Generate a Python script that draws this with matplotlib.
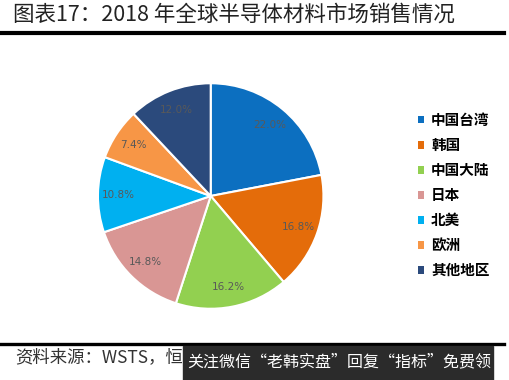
import matplotlib
matplotlib.use("Agg")
import matplotlib.pyplot as plt
from matplotlib.patches import Rectangle
from matplotlib.lines import Line2D

plt.rcParams['font.family'] = ['Noto Sans CJK SC', 'DejaVu Sans']

regions = ['中国台湾', '韩国', '中国大陆', '日本', '北美', '欧洲', '其他地区']
shares = [22.0, 16.8, 16.2, 14.8, 10.8, 7.4, 12.0]
colors = ['#0C6FC0', '#E46C0A', '#92D050', '#D99694', '#00B0F0', '#F79646', '#2B4A7C']
title = '图表17：2018 年全球半导体材料市场销售情况'
source = '资料来源：WSTS，恒大研究院'
watermark = '关注微信“老韩实盘”回复“指标”免费领'

W, H = 509, 380
fig = plt.figure(figsize=(W / 100, H / 100), dpi=100)
fig.patch.set_facecolor('white')

def fx(px):
    return px / W

def fy(py):
    return 1 - py / H

# title and rules
fig.text(fx(13), fy(15), title, fontsize=15.5, color='#222222', va='center', ha='left',
         fontweight='light')
fig.add_artist(Line2D([0, fx(504)], [fy(33), fy(33)], color='black', lw=3.0))
fig.add_artist(Line2D([0, fx(504)], [fy(343.5), fy(343.5)], color='black', lw=2.4))
fig.text(fx(15), fy(357), source, fontsize=12.5, color='#333333', va='center', ha='left',
         style='italic', fontweight='light')

# watermark overlay
fig.add_artist(Rectangle((fx(183), 0), fx(493) - fx(183), fy(345.5), color='#2b2b2b', zorder=5))
fig.text(fx(339), fy(362), watermark, fontsize=11.5, color='white', va='center', ha='center', zorder=6)

# pie
cx, cy, r = 210.7, 196, 115
ax = fig.add_axes([fx(cx - r), fy(cy + r), 2 * r / W, 2 * r / H])
wedges, texts, autotexts = ax.pie(
    shares, colors=colors, startangle=90, counterclock=False,
    autopct=lambda p: f'{p:.1f}%', pctdistance=0.82,
    wedgeprops=dict(edgecolor='white', linewidth=1.5),
    textprops=dict(color='#595959', fontsize=7.5, family=['DejaVu Sans']))
ax.set_xlim(-1.02, 1.02)
ax.set_ylim(-1.02, 1.02)
ax.set_aspect('equal')
ax.axis('off')

leg = fig.legend(wedges, regions, loc='upper left', bbox_to_anchor=(fx(418), fy(112)),
                 frameon=False, handlelength=0.4, handleheight=0.4, handletextpad=0.5,
                 labelspacing=0.62, borderaxespad=0, borderpad=0,
                 prop=dict(family=['Noto Sans CJK SC'], weight='bold', size=10.5))
for h in leg.legend_handles:
    h.set_edgecolor('none')

fig.savefig('out.png', dpi=100)
